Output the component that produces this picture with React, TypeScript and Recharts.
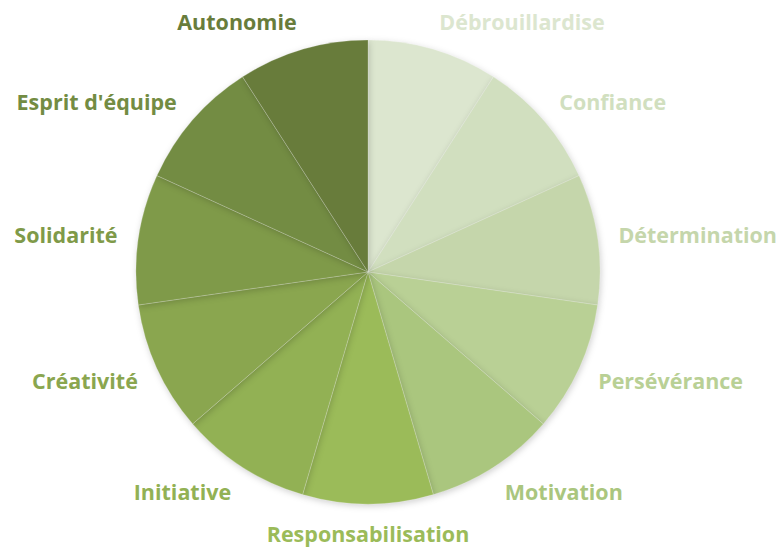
import React from 'react';
import { PieChart, Pie, Cell } from 'recharts';

const categories = [
  'Débrouillardise',
  'Confiance',
  'Détermination',
  'Persévérance',
  'Motivation',
  'Responsabilisation',
  'Initiative',
  'Créativité',
  'Solidarité',
  "Esprit d'équipe",
  'Autonomie',
];
const values = [1, 1, 1, 1, 1, 1, 1, 1, 1, 1, 1];
const colors = [
  '#dce6cf',
  '#d1dfbf',
  '#c5d6ab',
  '#b9d095',
  '#aac67e',
  '#9bbb59',
  '#92b154',
  '#8aa64f',
  '#7f9a49',
  '#738c43',
  '#687c3b',
];

const data = categories.map((name, i) => ({ name, value: values[i] }));

const RADIAN = Math.PI / 180;

const renderLabel = (props: any) => {
  const { cx, cy, midAngle, outerRadius, index } = props;
  const rx = outerRadius + 21;
  const ry = outerRadius + 29;
  const cos = Math.cos(-midAngle * RADIAN);
  const sin = Math.sin(-midAngle * RADIAN);
  const x = cx + rx * cos;
  const y = cy + ry * sin;
  const anchor = Math.abs(cos) < 0.1 ? 'middle' : cos > 0 ? 'start' : 'end';
  return (
    <text
      x={x}
      y={y}
      textAnchor={anchor}
      dominantBaseline="central"
      fill={colors[index]}
      fontFamily="'Open Sans', sans-serif"
      fontWeight="bold"
      fontSize={21.5}
    >
      {categories[index]}
    </text>
  );
};

export default function App() {
  return (
    <div style={{ position: 'absolute', left: 0, top: 0, width: 780, height: 548, background: '#fff' }}>
      <PieChart width={780} height={548} margin={{ top: 0, right: 0, bottom: 0, left: 0 }}>
        <Pie
          data={data}
          dataKey="value"
          nameKey="name"
          cx={368}
          cy={272}
          outerRadius={232}
          startAngle={90}
          endAngle={-270}
          label={renderLabel}
          labelLine={false}
          isAnimationActive={false}
          stroke="rgba(255,255,255,0.35)"
          strokeWidth={0.6}
          style={{ filter: 'drop-shadow(1px 2px 3px rgba(0,0,0,0.18))' }}
        >
          {data.map((d, i) => (
            <Cell key={d.name} fill={colors[i]} />
          ))}
        </Pie>
      </PieChart>
    </div>
  );
}
